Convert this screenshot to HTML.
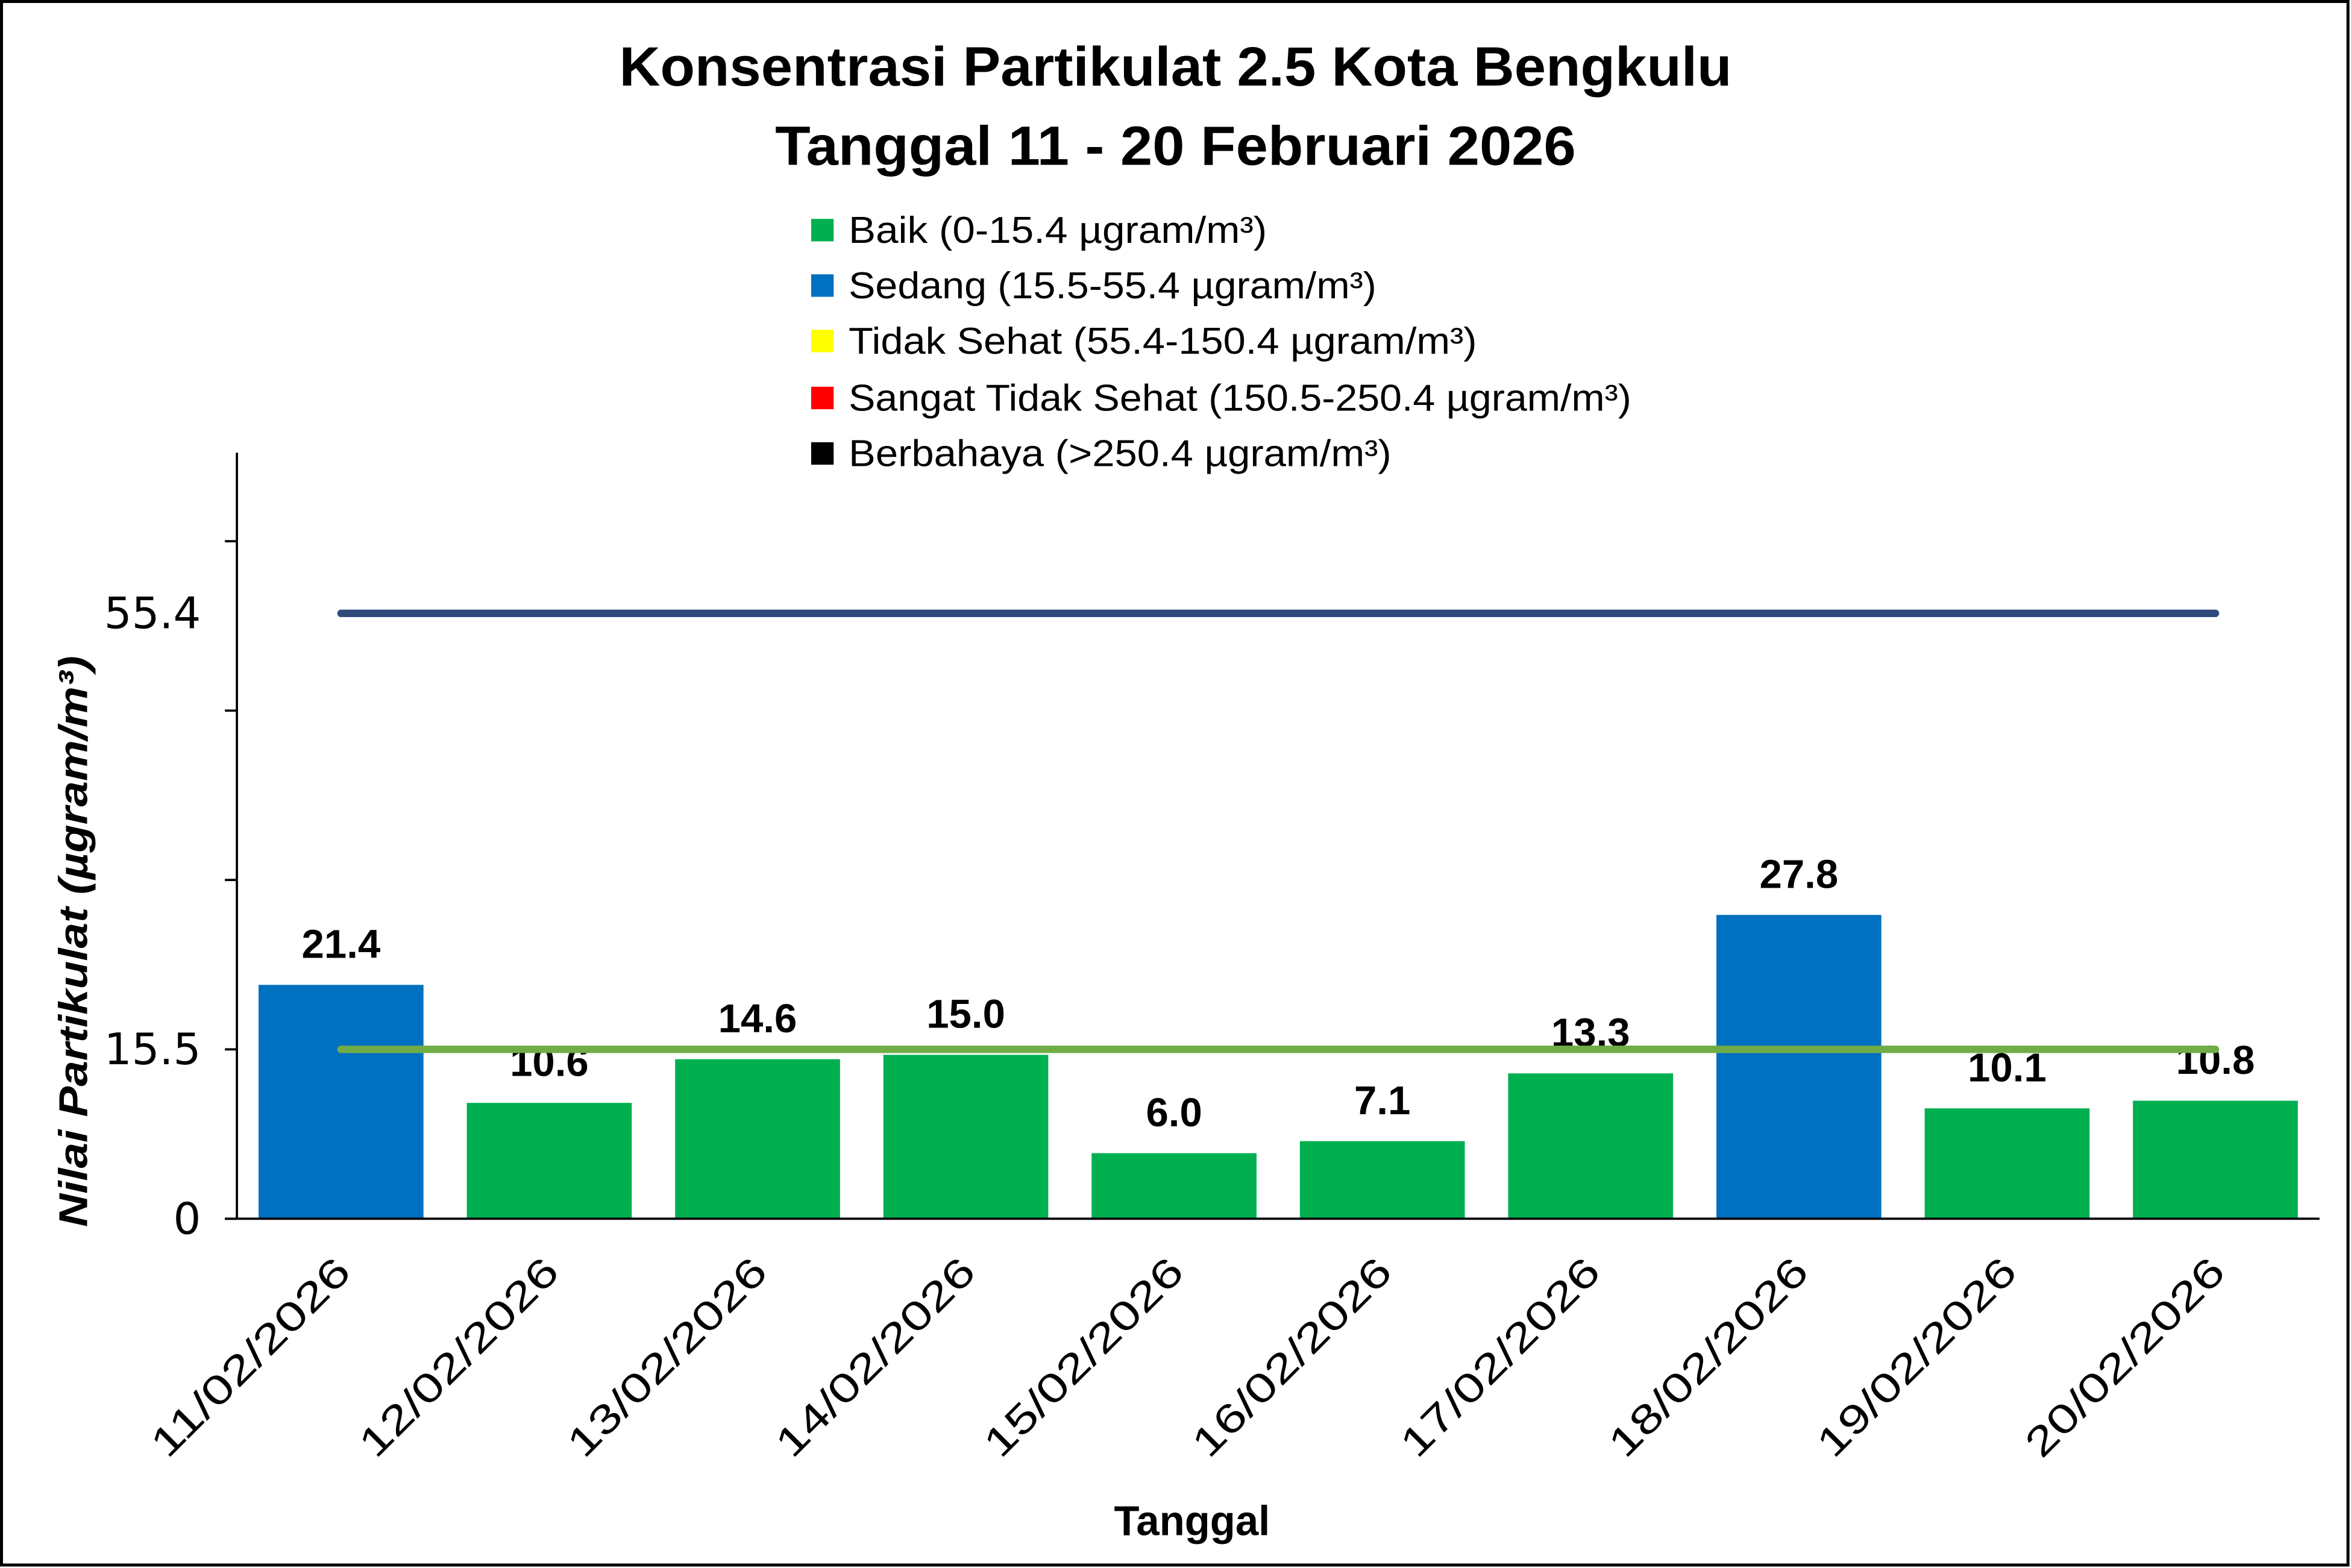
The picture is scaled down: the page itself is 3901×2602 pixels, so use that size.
<!DOCTYPE html>
<html><head><meta charset="utf-8"><style>html,body{margin:0;padding:0;background:#fff}svg{display:block}</style></head>
<body>
<svg id="chart" width="3901" height="2602" viewBox="0 0 1568 1046" preserveAspectRatio="none" xmlns="http://www.w3.org/2000/svg" font-family="'Liberation Sans', sans-serif">
<rect x="1" y="1" width="1565" height="1043" fill="#fff" stroke="#000" stroke-width="2"/>
<text x="784" y="57" text-anchor="middle" font-size="37" font-weight="bold" textLength="742" lengthAdjust="spacingAndGlyphs">Konsentrasi Partikulat 2.5 Kota Bengkulu</text>
<text x="784" y="110" text-anchor="middle" font-size="37" font-weight="bold" textLength="534" lengthAdjust="spacingAndGlyphs">Tanggal 11 - 20 Februari 2026</text>
<g font-size="25">
<g><rect x="541" y="146" width="15" height="15" fill="#00B050"/><text x="566" y="162" textLength="279" lengthAdjust="spacingAndGlyphs">Baik (0-15.4 µgram/m³)</text></g>
<g><rect x="541" y="183" width="15" height="15" fill="#0070C0"/><text x="566" y="199" textLength="352" lengthAdjust="spacingAndGlyphs">Sedang (15.5-55.4 µgram/m³)</text></g>
<g><rect x="541" y="220" width="15" height="15" fill="#FFFF00"/><text x="566" y="236" textLength="419" lengthAdjust="spacingAndGlyphs">Tidak Sehat (55.4-150.4 µgram/m³)</text></g>
<g><rect x="541" y="258" width="15" height="15" fill="#FF0000"/><text x="566" y="274" textLength="522" lengthAdjust="spacingAndGlyphs">Sangat Tidak Sehat (150.5-250.4 µgram/m³)</text></g>
<g><rect x="541" y="295" width="15" height="15" fill="#000"/><text x="566" y="311" textLength="362" lengthAdjust="spacingAndGlyphs">Berbahaya (&gt;250.4 µgram/m³)</text></g>
</g>
<g id="plot"></g>
<text transform="translate(58,628) rotate(-90)" text-anchor="middle" font-size="27" font-weight="bold" font-style="italic" textLength="381" lengthAdjust="spacingAndGlyphs">Nilai Partikulat (µgram/m³)</text>
<text x="795" y="1024" text-anchor="middle" font-size="28" font-weight="bold" textLength="104" lengthAdjust="spacingAndGlyphs">Tanggal</text>
</svg>
<script>
const categories = ["11/02/2026","12/02/2026","13/02/2026","14/02/2026","15/02/2026","16/02/2026","17/02/2026","18/02/2026","19/02/2026","20/02/2026"];
const values = [21.4,10.6,14.6,15.0,6.0,7.1,13.3,27.8,10.1,10.8];
const valueLabels = ["21.4","10.6","14.6","15.0","6.0","7.1","13.3","27.8","10.1","10.8"];
const yTicks = [0,15.5,31,46.5,62];
const yTickLabels = ["0","15.5","","",""];
const refLines = [55.4,15.5];
const refLabels = ["55.4",""];
const refColors = ["#2F4B7C","#70AD47"];
const yMax = 70.1;

const NS = "http://www.w3.org/2000/svg";
const plot = document.getElementById('plot');
const X0 = 158, X1 = 1547, Y0 = 813, YT = 302;
const catW = (X1 - X0) / categories.length;
function xc(i){ return X0 + catW * (i + 0.5); }
function y(v){ return Y0 - (v / yMax) * (Y0 - YT); }
function mk(tag, attrs){ const e = document.createElementNS(NS, tag); for (const k in attrs) e.setAttribute(k, attrs[k]); plot.appendChild(e); return e; }

values.forEach((v, i) => {
  const b = mk('rect', {x: xc(i) - 55, y: y(v), width: 110, height: Y0 - y(v), fill: v >= 15.5 ? '#0070C0' : '#00B050'});
  
  
  const t = mk('text', {x: xc(i), y: y(v) - 18, 'text-anchor': 'middle', 'font-size': 27, 'font-weight': 'bold'});
  t.textContent = valueLabels[i];
  
  
  const xl = mk('text', {transform: 'translate(' + (xc(i) + 8) + ',850) rotate(-45)', 'text-anchor': 'end', 'font-size': 27, textLength: 175, lengthAdjust: 'spacingAndGlyphs'});
  xl.textContent = categories[i];
  
  
});

refLines.forEach((v, k) => {
  const l = mk('line', {x1: xc(0), x2: xc(categories.length - 1), y1: y(v), y2: y(v), stroke: refColors[k], 'stroke-width': 5, 'stroke-linecap': 'round'});
  
  
  if (refLabels[k]) {
    const t = mk('text', {x: 134, y: y(v) + 10, 'text-anchor': 'end', 'font-size': 29, 'font-family': "'DejaVu Sans', sans-serif"});
    t.textContent = refLabels[k];
    
    
  }
});

yTicks.forEach((v, k) => {
  const tk = mk('line', {x1: 150, x2: X0, y1: y(v), y2: y(v), stroke: '#000', 'stroke-width': 1.5});
  
  
  if (yTickLabels[k]) {
    const t = mk('text', {x: 134, y: y(v) + 10, 'text-anchor': 'end', 'font-size': 29, 'font-family': "'DejaVu Sans', sans-serif"});
    t.textContent = yTickLabels[k];
    
    
  }
});

const ya = mk('line', {x1: X0, x2: X0, y1: YT, y2: Y0, stroke: '#000', 'stroke-width': 1.5});


const xa = mk('line', {x1: 150, x2: X1, y1: Y0, y2: Y0, stroke: '#000', 'stroke-width': 1.5});


</script>
</body></html>
